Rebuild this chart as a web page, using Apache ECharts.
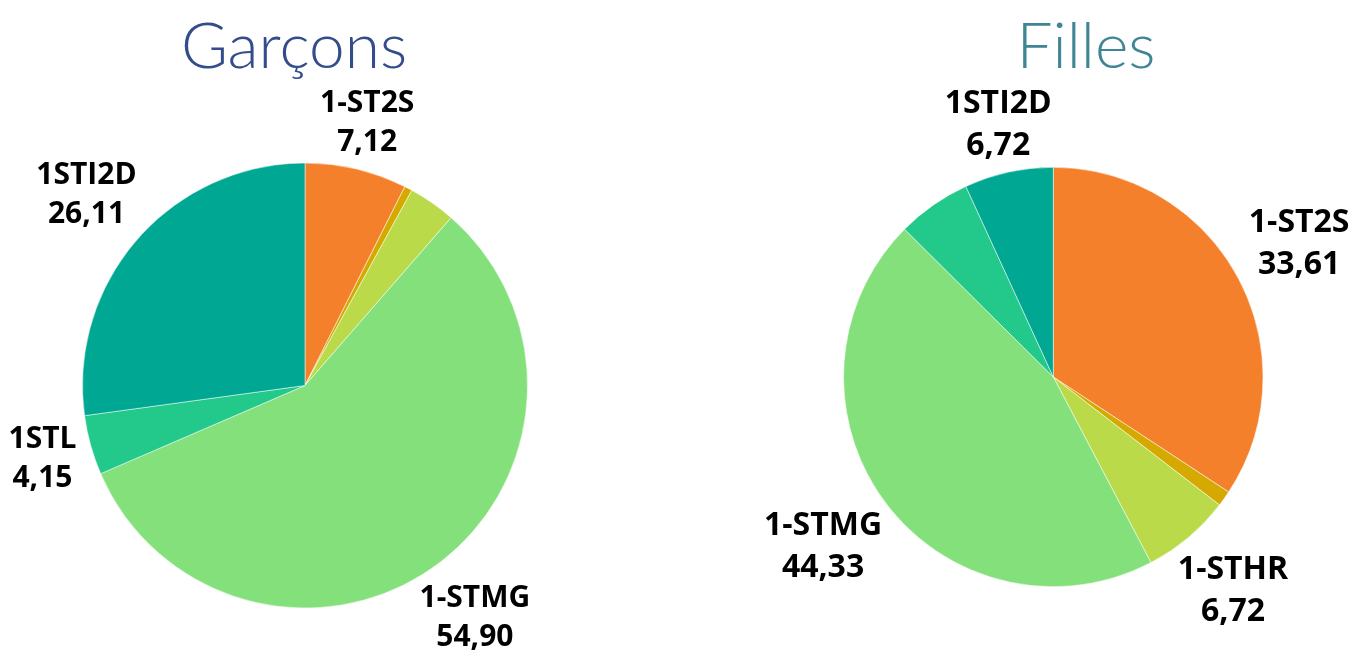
<!DOCTYPE html>
<html>
<head>
<meta charset="utf-8">
<script src="https://cdn.jsdelivr.net/npm/echarts@6/dist/echarts.min.js"></script>
<style>
html,body{margin:0;padding:0;background:#fff;}
#main{width:1355px;height:651px;}
</style>
</head>
<body>
<div id="main"></div>
<script>
var categories = ['1-ST2S', '1STD2A', '1-STHR', '1-STMG', '1STL', '1STI2D'];
var garconsValues = [7.12, 0.54, 3.30, 54.90, 4.15, 26.11];
var fillesValues = [33.61, 1.18, 6.72, 44.33, 5.60, 6.72];
var garconsShowLabel = [true, false, false, true, true, true];
var fillesShowLabel = [true, false, true, true, false, true];
var colors = ['#F5802C', '#D5A900', '#BBDA4A', '#83E07B', '#23C98B', '#00A792'];
var titles = ['Garçons', 'Filles'];

function fmt(v) { return v.toFixed(2).replace('.', ','); }

var measureCtx = document.createElement('canvas').getContext('2d');
function textWidth(t, size) {
  measureCtx.font = 'bold ' + size + 'px "Open Sans"';
  return measureCtx.measureText(t).width;
}

var chart = echarts.init(document.getElementById('main'), null, {renderer: 'canvas'});

function makeLabelLayout(fontSize, lineHeight, gap) {
  return function (params) {
    var series = chart.getModel().getSeriesByIndex(params.seriesIndex);
    var data = series.getData();
    var lay = data.getItemLayout(params.dataIndex);
    var name = data.getName(params.dataIndex);
    var val = data.get('value', params.dataIndex);
    var cx = lay.cx, cy = lay.cy, r = lay.r;
    var mid = (lay.startAngle + lay.endAngle) / 2;
    var ux = Math.cos(mid), uy = Math.sin(mid);
    var hw = Math.max(textWidth(name, fontSize), textWidth(fmt(val), fontSize)) / 2;
    var hh = (lineHeight + fontSize * 0.72) / 2;
    var lo = 0, hi = r + 400;
    for (var i = 0; i < 60; i++) {
      var m = (lo + hi) / 2;
      var bx = m * ux, by = m * uy;
      var nx = Math.min(Math.max(0, bx - hw), bx + hw);
      var ny = Math.min(Math.max(0, by - hh), by + hh);
      if (Math.sqrt(nx * nx + ny * ny) < r + gap) lo = m; else hi = m;
    }
    return { x: cx + lo * ux, y: cy + lo * uy, align: 'center', verticalAlign: 'middle' };
  };
}

function buildData(values, shows) {
  return categories.map(function (c, i) {
    return { name: c, value: values[i], label: { show: shows[i] } };
  });
}

function pieSeries(values, shows, center, radius, fontSize, lineHeight, gap) {
  return {
    type: 'pie',
    center: center,
    radius: radius,
    startAngle: 90,
    clockwise: true,
    avoidLabelOverlap: false,
    animation: false,
    itemStyle: { borderColor: '#ffffff', borderWidth: 0.5 },
    label: {
      show: true,
      position: 'outside',
      width: 220,
      overflow: 'none',
      color: '#000',
      fontFamily: 'Open Sans',
      fontWeight: 'bold',
      fontSize: fontSize,
      lineHeight: lineHeight,
      formatter: function (p) { return p.name + '\n' + fmt(p.value); }
    },
    labelLine: { show: false },
    labelLayout: makeLabelLayout(fontSize, lineHeight, gap),
    emphasis: { disabled: true },
    data: buildData(values, shows)
  };
}

var option = {
  animation: false,
  color: colors,
  title: [
    { text: titles[0], left: 289, top: 10, textAlign: 'center',
      textStyle: { fontFamily: 'Lato', fontWeight: 300, fontSize: 64, color: '#334C8C' } },
    { text: titles[1], left: 1081, top: 10, textAlign: 'center',
      textStyle: { fontFamily: 'Lato', fontWeight: 300, fontSize: 64, color: '#3F8595' } }
  ],
  series: [
    pieSeries(garconsValues, garconsShowLabel, [305, 385.5], 222.5, 30, 39, 10),
    pieSeries(fillesValues, fillesShowLabel, [1053.3, 377], 209.7, 32, 42, 10)
  ]
};
chart.setOption(option);
</script>
</body>
</html>
